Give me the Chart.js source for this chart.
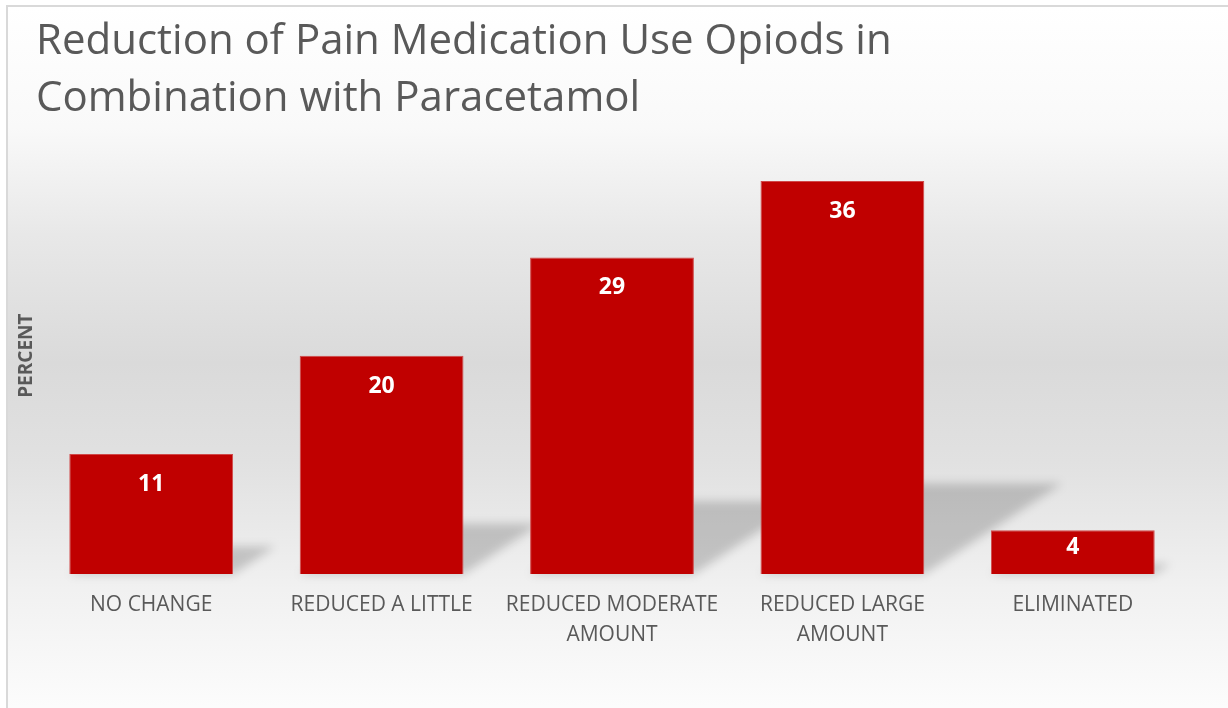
<!DOCTYPE html>
<html>
<head>
<meta charset="utf-8">
<script src="https://cdn.jsdelivr.net/npm/chart.js@4.4.0/dist/chart.umd.min.js"></script>
<style>
  html, body { margin: 0; padding: 0; width: 1228px; height: 708px; overflow: hidden; background: #fff; }
  #frame {
    position: absolute; left: 6px; top: 5px; right: -12px; bottom: -12px;
    border: 2px solid #d9d9d9;
    background: linear-gradient(to bottom, #ffffff 0%, #f9f9f9 17%, #e8e8e8 32%, #dadada 50%, #e1e1e1 64%, #f1f1f1 82%, #fdfdfd 100%);
  }
  #wrap { position: absolute; left: 0; top: 0; width: 1228px; height: 708px; }
</style>
</head>
<body>
<div id="frame"></div>
<div id="wrap"><canvas id="painChart"></canvas></div>
<script>
// data
const categories = ['NO CHANGE', 'REDUCED A LITTLE', ['REDUCED MODERATE', 'AMOUNT'], ['REDUCED LARGE', 'AMOUNT'], 'ELIMINATED'];
const percents = [11, 20, 29, 36, 4];
const titleLines = ['Reduction of Pain Medication Use Opiods in', 'Combination with Paracetamol'];
const axisTitle = 'PERCENT';
const axisMax = 40;

const GREY = '#595959';
const BAR_RED = '#c00000';

// perspective shadow behind each bar
const barShadows = {
    id: 'barShadows',
    beforeDatasetsDraw(chart) {
        const ctx = chart.ctx;
        const meta = chart.getDatasetMeta(0);
        ctx.save();
        ctx.filter = 'blur(5px)';
        ctx.fillStyle = 'rgba(0,0,0,0.18)';
        meta.data.forEach(function(bar) {
            const h = bar.base - bar.y;
            const left = bar.x - bar.width / 2;
            const right = bar.x + bar.width / 2;
            const dx = h * 0.35, dy = h * 0.23;
            ctx.beginPath();
            ctx.moveTo(left, bar.base);
            ctx.lineTo(right, bar.base);
            ctx.lineTo(right + dx, bar.base - dy);
            ctx.lineTo(left + dx, bar.base - dy);
            ctx.closePath();
            ctx.fill();
        });
        ctx.restore();
    }
};

// white value labels inside the top of each bar
const valueLabels = {
    id: 'valueLabels',
    afterDatasetsDraw(chart) {
        const ctx = chart.ctx;
        const meta = chart.getDatasetMeta(0);
        const values = chart.data.datasets[0].data;
        ctx.save();
        ctx.font = 'bold 23px "Open Sans"';
        ctx.fillStyle = '#ffffff';
        ctx.textAlign = 'center';
        ctx.textBaseline = 'middle';
        meta.data.forEach(function(bar, i) {
            const h = bar.base - bar.y;
            const off = Math.min(30.5, h / 2 - 5);
            ctx.fillText(String(values[i]), bar.x, bar.y + off);
        });
        ctx.restore();
    }
};

const ctx = document.getElementById('painChart').getContext('2d');

const painChart = new Chart(ctx, {
    type: 'bar',
    data: {
        labels: categories,
        datasets: [
            {
                data: percents,
                backgroundColor: BAR_RED,
                borderColor: '#d04848',
                borderWidth: 1,
                barPercentage: 0.711,
                categoryPercentage: 1
            }
        ]
    },
    options: {
        responsive: true,
        maintainAspectRatio: false,
        animation: false,
        layout: {
            padding: { left: 17, right: 40, top: 0, bottom: 42 }
        },
        scales: {
            x: {
                grid: { display: false, drawTicks: false },
                border: { display: false },
                ticks: {
                    color: GREY,
                    font: { family: 'Open Sans', size: 21, lineHeight: 1.4286 },
                    padding: 16,
                    autoSkip: false,
                    maxRotation: 0
                }
            },
            y: {
                min: 0,
                max: axisMax,
                grid: { display: false, drawTicks: false },
                border: { display: false },
                ticks: { display: false },
                title: {
                    display: true,
                    text: axisTitle,
                    color: GREY,
                    font: { family: 'Open Sans', size: 19, weight: 'bold', lineHeight: 1 },
                    padding: { top: 0, bottom: 0 }
                }
            }
        },
        plugins: {
            legend: { display: false },
            tooltip: { enabled: false },
            title: {
                display: true,
                fullSize: false,
                align: 'start',
                text: titleLines,
                color: GREY,
                font: { family: 'Open Sans', size: 42, weight: 'normal', lineHeight: 1.369 },
                padding: { top: 13, bottom: 9.35 }
            }
        }
    },
    plugins: [barShadows, valueLabels]
});
</script>
</body>
</html>
